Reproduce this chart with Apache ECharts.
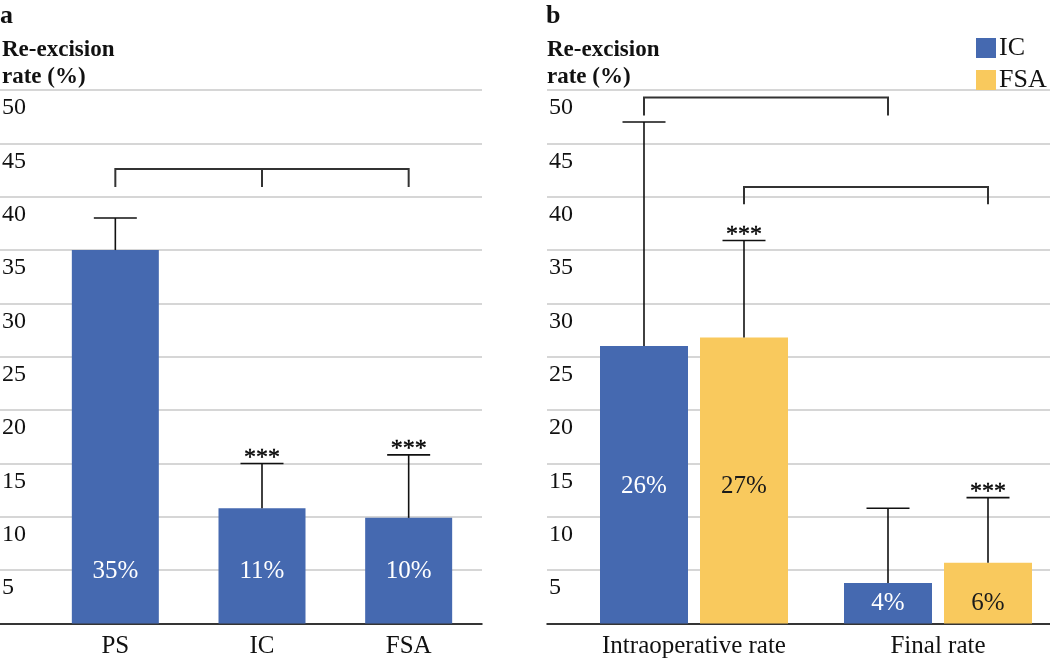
<!DOCTYPE html>
<html><head><meta charset="utf-8">
<script src="https://cdn.jsdelivr.net/npm/echarts@6/dist/echarts.min.js"></script>
<style>html,body{margin:0;padding:0;background:#fff}#c{width:1050px;height:659px}</style>
</head><body><div id="c"></div>
<script>
// ---- data ----
const catsA = ['PS', 'IC', 'FSA'];
const valuesA = [35, 10.8, 9.9];
const errorsA = [38.0, 15.0, 15.8];
const sigA = ['', '***', '***'];
const bracketA = [[0, 2, 42.6, 40.9, 1]]; // from, to, top, tick bottom, middle tick

const catsB = ['Intraoperative rate', 'Final rate'];
const seriesNamesB = ['IC', 'FSA'];
const valuesB_IC = [26, 3.8];
const valuesB_FSA = [26.8, 5.7];
const errorsB_IC = [47, 10.8];
const errorsB_FSA = [35.9, 11.8];
const sigB_IC = ['', ''];
const sigB_FSA = ['***', '***'];
const bracketsB = [[0, 1, 49.3, 47.6, 0], [0, 1, 40.9, 39.3, 1]]; // from, to, top, bottom, series index

// ---- style ----
const FONT = 'Liberation Serif';
const BLUE = '#4569B0';
const YELLOW = '#F9C95D';
const BW = 88, GAP = 12;
const OFF = (BW + GAP) / 2;
const TOP = 90, H = 533.5;

const chart = echarts.init(document.getElementById('c'), null, {renderer: 'canvas'});

function bgY(idx) {
  return {
    gridIndex: idx, type: 'value', min: 0, max: 50, interval: 5,
    axisLine: {show: false}, axisTick: {show: false},
    splitLine: {lineStyle: {color: '#c9c9c9', width: 1.5}},
    axisLabel: {inside: true, margin: 2, verticalAlign: 'top', padding: [6, 0, 0, 0],
      fontFamily: FONT, fontSize: 24, color: '#111',
      formatter: v => v === 0 ? '' : String(v)}
  };
}
function hiddenY(idx) {
  return {gridIndex: idx, type: 'value', min: 0, max: 50, show: false, splitLine: {show: false}};
}
function bgX(idx) {
  return {gridIndex: idx, type: 'category', data: [''],
    axisLine: {lineStyle: {color: '#000', width: 1.5}}, axisTick: {show: false}, axisLabel: {show: false}};
}
function barX(idx, cats) {
  return {gridIndex: idx, type: 'category', data: cats,
    axisLine: {show: false}, axisTick: {show: false},
    axisLabel: {interval: 0, hideOverlap: false, margin: 10, fontFamily: FONT, fontSize: 25, color: '#111'}};
}

function errSeries(xi, yi, vals, errs, sig, offset) {
  return {
    type: 'custom', xAxisIndex: xi, yAxisIndex: yi, z: 5, clip: false,
    data: vals.map((v, i) => [i, v, errs[i]]),
    renderItem: function (params, api) {
      const i = api.value(0);
      const b = api.coord([i, api.value(1)]);
      const t = api.coord([i, api.value(2)]);
      const x = b[0] + offset;
      const st = {stroke: '#111', lineWidth: 1.6};
      const children = [
        {type: 'line', shape: {x1: x, y1: b[1], x2: x, y2: t[1]}, style: st},
        {type: 'line', shape: {x1: x - 21.5, y1: t[1], x2: x + 21.5, y2: t[1]}, style: st}
      ];
      const s = sig[params.dataIndex];
      if (s) children.push({type: 'text', x: x, y: t[1] + 6,
        style: {text: s, fontFamily: FONT, fontSize: 24, fill: '#000', stroke: '#000', lineWidth: 0.4,
          align: 'center', verticalAlign: 'bottom'}});
      return {type: 'group', children: children};
    }
  };
}

function bracketSeries(xi, yi, data, offFn) {
  return {
    type: 'custom', xAxisIndex: xi, yAxisIndex: yi, z: 6, clip: false,
    data: data,
    renderItem: function (params, api) {
      const o = offFn(api.value(4));
      const a = api.coord([api.value(0), api.value(2)]);
      const c = api.coord([api.value(1), api.value(2)]);
      const yb = api.coord([api.value(0), api.value(3)])[1];
      const st = {stroke: '#333', lineWidth: 2, fill: null};
      const x1 = a[0] + o, x2 = c[0] + o;
      const children = [{type: 'polyline', shape: {points: [[x1, yb], [x1, a[1]], [x2, a[1]], [x2, yb]]}, style: st}];
      if (offFn === midFn) {
        const m = api.coord([api.value(4), api.value(2)]);
        children.push({type: 'line', shape: {x1: m[0], y1: m[1], x2: m[0], y2: yb}, style: st});
      }
      return {type: 'group', children: children};
    }
  };
}
const midFn = () => 0;
const seriesOff = k => (k === 0 ? -OFF : OFF);

const titleStyle = {fontFamily: FONT, fontWeight: 'bold', fontSize: 23, lineHeight: 27, color: '#111'};
const option = {
  backgroundColor: '#fff',
  animation: false,
  title: [
    {text: 'a', left: 0, top: 3, padding: 0, textStyle: {fontFamily: FONT, fontWeight: 'bold', fontSize: 26, color: '#111'}},
    {text: 'Re-excision\nrate (%)', left: 2, top: 37, padding: 0, textStyle: titleStyle},
    {text: 'b', left: 546, top: 3, padding: 0, textStyle: {fontFamily: FONT, fontWeight: 'bold', fontSize: 26, color: '#111'}},
    {text: 'Re-excision\nrate (%)', left: 547, top: 37, padding: 0, textStyle: titleStyle}
  ],
  legend: {
    data: seriesNamesB, orient: 'vertical', left: 976, top: 35, icon: 'rect',
    itemWidth: 20, itemHeight: 20, itemGap: 6, padding: 0,
    textStyle: {fontFamily: FONT, fontSize: 26, lineHeight: 20, color: '#111', padding: [0, 0, 0, -2]}
  },
  grid: [
    {left: 0, top: TOP, width: 482, height: H, outerBoundsMode: 'none'},
    {left: 42, top: TOP, width: 440, height: H, outerBoundsMode: 'none'},
    {left: 547, top: TOP, width: 503, height: H, outerBoundsMode: 'none'},
    {left: 572, top: TOP, width: 488, height: H, outerBoundsMode: 'none'}
  ],
  xAxis: [bgX(0), barX(1, catsA), bgX(2), barX(3, catsB)],
  yAxis: [bgY(0), hiddenY(1), bgY(2), hiddenY(3)],
  series: [
    {type: 'bar', name: 'A', xAxisIndex: 1, yAxisIndex: 1, barWidth: 87, data: valuesA,
      itemStyle: {color: BLUE},
      label: {show: true, position: 'insideBottom', distance: 40, color: '#fff', fontFamily: FONT, fontSize: 25,
        formatter: p => Math.round(p.value) + '%'}},
    errSeries(1, 1, valuesA, errorsA, sigA, 0),
    bracketSeries(1, 1, bracketA, midFn),
    {type: 'bar', name: seriesNamesB[0], xAxisIndex: 3, yAxisIndex: 3, barWidth: BW, barGap: (GAP / BW * 100) + '%',
      itemStyle: {color: BLUE},
      data: valuesB_IC.map((v, i) => ({value: v, label: {distance: i === 0 ? 125 : 7.5}})),
      label: {show: true, position: 'insideBottom', color: '#fff', fontFamily: FONT, fontSize: 25,
        formatter: p => Math.round(p.value) + '%'}},
    {type: 'bar', name: seriesNamesB[1], xAxisIndex: 3, yAxisIndex: 3, barWidth: BW, barGap: (GAP / BW * 100) + '%',
      itemStyle: {color: YELLOW},
      data: valuesB_FSA.map((v, i) => ({value: v, label: {distance: i === 0 ? 125 : 7.5}})),
      label: {show: true, position: 'insideBottom', color: '#1a1a1a', fontFamily: FONT, fontSize: 25,
        formatter: p => Math.round(p.value) + '%'}},
    errSeries(3, 3, valuesB_IC, errorsB_IC, sigB_IC, -OFF),
    errSeries(3, 3, valuesB_FSA, errorsB_FSA, sigB_FSA, OFF),
    bracketSeries(3, 3, bracketsB, seriesOff)
  ]
};
chart.setOption(option);
</script>
</body></html>
